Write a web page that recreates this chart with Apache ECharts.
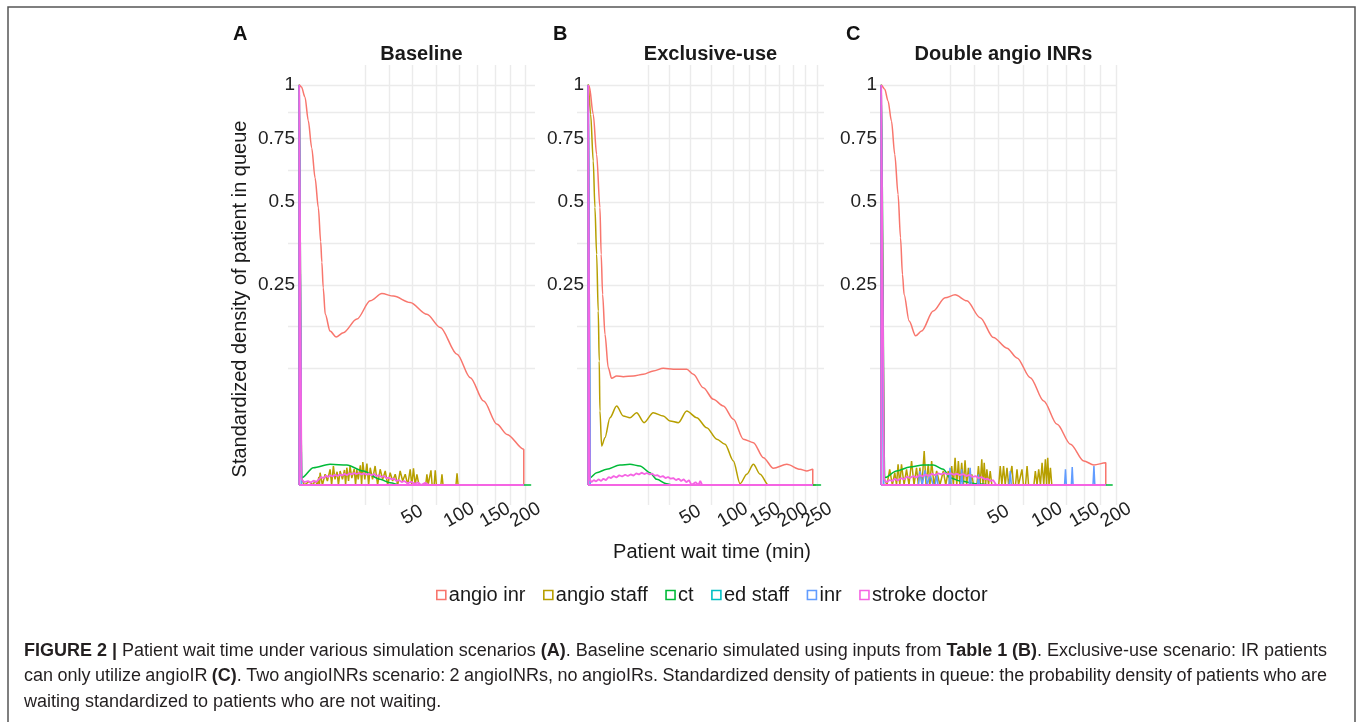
<!DOCTYPE html>
<html><head><meta charset="utf-8">
<script src="https://cdn.jsdelivr.net/npm/echarts@6/dist/echarts.min.js"></script>
<style>html,body{margin:0;padding:0;background:#fff}#c{width:1357px;height:722px}</style>
</head><body><div id="c"></div><script>
const FONT = '"Liberation Sans", Arial, Helvetica, sans-serif';
const SERIES_NAMES = ['angio inr','angio staff','ct','ed staff','inr','stroke doctor'];
const COLORS = ['#F8766D','#B79F00','#00BA38','#00BFC4','#619CFF','#F564E3'];
const SMOOTH = [true, false, true, false, false, false];
const PANEL_LETTERS = ['A','B','C'];
const PANEL_TITLES = ['Baseline','Exclusive-use','Double angio INRs'];
const X_BREAKS = [[50,100,150,200],[50,100,150,200,250],[50,100,150,200]];
const Y_BREAKS = [0.25,0.5,0.75,1];

// ---- Panel A: Baseline  [wait time (min), standardized density]
const baseAngioInr = [[0,1],[0.02,0.99],[0.13,0.94],[0.32,0.83],[0.61,0.71],[0.98,0.59],[1.43,0.48],[1.8,0.37],[2.0,0.31],[2.25,0.243],[2.65,0.182],[3.72,0.148],[5.31,0.137],[7.6,0.145],[13,0.172],[19.7,0.212],[26.7,0.229],[34.7,0.223],[48.1,0.208],[63.7,0.182],[77.7,0.155],[97.3,0.107],[114.4,0.072],[132.9,0.044],[152.9,0.023],[168.8,0.016],[197,0.008]];
const baseAngioStaff = [[0,1],[0.02,0.0003],[0.1,0],[0.4,0.00008],[0.7,0],[1.0,0.0001],[1.3,0],[1.5,0.0004],[1.6,0],[1.7,0.00095],[2.1,0],[2.61,0.00072],[3.1,0.0001],[3.72,0.00154],[4.1,0],[4.56,0.00226],[5.0,0.0002],[5.6,0.0011],[6.0,0],[6.53,0.00123],[7.3,0.0002],[8.0,0.0014],[8.4,0],[8.85,0.00187],[9.5,0.0001],[10.1,0.00226],[10.8,0.0003],[11.8,0.0016],[12.4,0],[12.96,0.00154],[13.6,0.0002],[14.6,0.0024],[15.2,0],[15.8,0.0033],[16.8,0.0002],[17.9,0.00284],[18.8,0],[19.7,0.00187],[21,0.0002],[22.5,0.00226],[24,0],[25.6,0.00154],[27.2,0.0002],[28.9,0.00123],[30.6,0],[32.3,0.00095],[34.1,0.0001],[36.0,0.00072],[37.9,0],[39.8,0.00123],[41.8,0.0001],[43.9,0.00072],[46,0],[48.1,0.00154],[49.5,0],[51.0,0.00174],[52.5,0],[54.1,0.00072],[56,0],[62.5,0],[63.7,0.00072],[64.9,0],[66.6,0],[67.8,0.00135],[69,0],[71.1,0],[72.3,0.00135],[73.5,0],[78.4,0],[79.6,0.00072],[80.8,0],[96,0],[97.3,0.00086],[98.6,0],[197,0]];
const baseCt = [[0,1],[0.025,0.00033],[0.78,0.00187],[3.72,0.00268],[8.85,0.0025],[16,0.00122],[25.6,0.0002],[32.3,0.00003],[40,0],[197,0]];
const baseEdStaff = [[0,1],[0.02,0],[197,0]];
const baseInr = [[0,1],[0.02,0],[197,0]];
const baseStroke = [[0,1],[0.02,0.0002],[0.1,0.00005],[0.3,0.0001],[0.5,0.00003],[0.8,0.00012],[1.1,0.00005],[1.5,0.0002],[1.9,0.0004],[2.3,0.0003],[2.8,0.00055],[3.3,0.0004],[3.8,0.0006],[4.4,0.00045],[5.0,0.00065],[5.7,0.0005],[6.4,0.0007],[7.2,0.00055],[8.0,0.0008],[8.9,0.0006],[9.8,0.00085],[10.8,0.0007],[11.8,0.0009],[12.9,0.00075],[14.0,0.0009],[15.2,0.0007],[16.4,0.00085],[17.7,0.00065],[19,0.0008],[20.4,0.0006],[21.8,0.00075],[23.3,0.0005],[24.8,0.0006],[26.4,0.0004],[28,0.0005],[29.7,0.0003],[31.4,0.00035],[33.2,0.0002],[35,0.00025],[37,0.0001],[39,0.00015],[41,0.00005],[43,0.0001],[46,0.00002],[49,0.00006],[52,0.00001],[55,0.00004],[58,0],[62,0.00003],[66,0],[197,0]];

// ---- Panel B: Exclusive-use
const exclAngioInr = [[0,1],[0.005,0.995],[0.12,0.859],[0.338,0.683],[0.656,0.481],[0.8,0.333],[0.99,0.227],[1.34,0.142],[1.92,0.086],[2.62,0.0711],[3.86,0.0743],[5.87,0.0733],[9.7,0.0743],[14.5,0.0766],[20.2,0.0812],[26.9,0.0851],[34.6,0.0837],[46.4,0.0837],[52.8,0.0766],[63.3,0.0592],[74.8,0.0459],[87.3,0.039],[100.7,0.027],[115.1,0.0131],[130.4,0.0112],[146.7,0.00466],[163.9,0.00174],[188.5,0.00268],[214.6,0.00154],[228.4,0.00123],[241,0.00154]];
const exclAngioStaff = [[0,1],[0.028,0.859],[0.12,0.656],[0.215,0.481],[0.338,0.333],[0.479,0.189],[0.58,0.0961],[0.656,0.0342],[0.86,0.0095],[1.34,0.014],[2.26,0.0283],[3.86,0.039],[5.87,0.0298],[8.33,0.0283],[11.2,0.0327],[14.9,0.0243],[20.2,0.0327],[26.9,0.0298],[32.0,0.0256],[38.8,0.0243],[46.4,0.0342],[56.3,0.0283],[67.1,0.0205],[79.0,0.0131],[89.5,0.0104],[100.7,0.0036],[110.2,0.00001],[120.2,0.00072],[130.4,0.00268],[141.2,0.00072],[155.2,0],[241,0]];
const exclCt = [[0,1],[0.014,0.00033],[0.338,0.00095],[1.62,0.00154],[4.81,0.0025],[8.33,0.00268],[12.8,0.00226],[18.2,0.00095],[22.4,0.0002],[29.4,0.00001],[34.6,0],[241,0]];
const exclEdStaff = [[0,1],[0.02,0],[241,0]];
const exclInr = [[0,1],[0.02,0],[241,0]];
const exclStroke = [[0,1],[0.01,0.0002],[0.05,0.00005],[0.15,0.00015],[0.3,0.00008],[0.5,0.0002],[0.8,0.0001],[1.1,0.00025],[1.5,0.00015],[2,0.0004],[2.5,0.0003],[3.1,0.0005],[3.8,0.00035],[4.6,0.0006],[5.5,0.00045],[6.5,0.00065],[7.5,0.0005],[8.6,0.0007],[9.8,0.00055],[11,0.00085],[12.3,0.0007],[13.6,0.00095],[15,0.00075],[16.5,0.0009],[18,0.0007],[19.6,0.0008],[21.2,0.00055],[23,0.0006],[24.8,0.0004],[26.6,0.0005],[28.5,0.0003],[30.5,0.0004],[32.5,0.00025],[34.6,0.0003],[36.8,0.00015],[39,0.00025],[41.3,0.0001],[43.6,0.0002],[46,0.00005],[48.5,0.00015],[51,0],[55,0.00005],[58,0],[60,0.0001],[62,0],[241,0]];

// ---- Panel C: Double angio INRs
const dblAngioInr = [[0,1],[0.045,0.979],[0.169,0.922],[0.381,0.828],[0.667,0.683],[1.03,0.528],[1.35,0.382],[1.64,0.277],[1.90,0.227],[2.83,0.168],[4.3,0.139],[5.91,0.148],[9.82,0.189],[14.8,0.219],[19.8,0.226],[26.6,0.212],[35.5,0.175],[45.7,0.136],[57.4,0.117],[66.9,0.101],[80.7,0.072],[95.8,0.0441],[112.3,0.023],[130,0.0104],[149,0.0036],[164.2,0.0025],[183,0.0031]];
const dblAngioStaff = [[0,1],[0.03,0.0003],[0.12,0],[0.26,0.00154],[0.45,0],[0.667,0.00095],[0.85,0],[1.03,0.00268],[1.25,0],[1.49,0.00268],[1.9,0],[2.32,0.00154],[2.8,0],[3.34,0.0036],[3.9,0],[4.53,0.00187],[5.0,0],[5.42,0.00187],[6.0,0],[6.70,0.0072],[7.3,0],[8.02,0.00268],[8.6,0],[9.22,0.0036],[10.1,0],[11.15,0.00123],[12.5,0],[13.98,0.00123],[15.1,0],[16.33,0.00123],[17.2,0],[18.04,0.00226],[18.9,0],[19.8,0.00466],[20.7,0],[21.6,0.0036],[22.5,0],[23.5,0.0031],[24.5,0],[25.5,0.00381],[26.5,0],[27.6,0.00187],[28.7,0],[29.8,0.00072],[30.9,0],[33.2,0],[34.3,0.00226],[35.5,0],[36.7,0.00413],[37.6,0],[38.5,0.0031],[39.5,0],[40.5,0.00154],[41.8,0],[43.1,0.00123],[44.4,0],[50.1,0],[51.4,0.00226],[52.8,0],[54.3,0.00226],[55.8,0],[57.4,0.00187],[58.9,0],[60.6,0],[62.0,0.00226],[63.4,0],[65.4,0],[66.9,0.00154],[68.4,0],[70.4,0],[71.9,0.00154],[73.4,0],[75.6,0],[77.2,0.00226],[78.8,0],[84.6,0],[86.2,0.00123],[88.1,0],[90.0,0.00154],[92,0],[93.9,0.0031],[95.9,0],[97.8,0.00413],[99.2,0],[100.6,0.00466],[102.2,0],[103.9,0.00187],[105.6,0],[183,0]];
const dblCt = [[0,1],[0.045,0.00033],[0.845,0.00123],[2.97,0.002],[6.39,0.0025],[9.82,0.0025],[13.98,0.00154],[17.2,0.00033],[22.6,0.0001],[33.2,0.00001],[43.1,0],[183,0]];
const dblEdStaff = [[0,1],[0.02,0],[183,0]];
const dblInr = [[0,1],[0.02,0],[5.0,0],[5.42,0.00123],[6.1,0],[6.93,0.00135],[7.7,0],[8.61,0.00072],[9.8,0],[10.6,0],[11.15,0.00072],[11.7,0],[16.6,0],[17.2,0.00187],[17.8,0],[22.9,0],[23.5,0.00154],[24.1,0],[28.0,0],[28.7,0.00187],[29.4,0],[33.6,0],[34.3,0.00072],[35,0],[59.4,0],[60.4,0.00123],[61.4,0],[122,0],[123.2,0.00154],[124.4,0],[131.2,0],[132.4,0.002],[133.6,0],[162.8,0],[164.2,0.00226],[165.6,0],[183,0]];
const dblStroke = [[0,1],[0.03,0.0002],[0.1,0.00005],[0.25,0.00015],[0.45,0.0001],[0.7,0.00025],[1,0.00012],[1.4,0.0003],[1.9,0.0002],[2.4,0.00045],[3,0.0003],[3.7,0.0005],[4.5,0.00035],[5.3,0.0006],[6.2,0.00045],[7.2,0.0007],[8.2,0.0005],[9.3,0.0008],[10.5,0.0006],[11.8,0.00085],[13.1,0.0007],[14.5,0.0009],[16,0.0007],[17.5,0.00085],[19.1,0.00065],[20.8,0.0008],[22.5,0.0006],[24.3,0.00075],[26.2,0.0005],[28.1,0.00065],[30.1,0.0004],[32.2,0.0005],[34.3,0.0003],[36.5,0.0004],[38.8,0.0002],[41.1,0.00025],[43.5,0.0001],[45.5,0.00015],[48,0],[183,0]];

const PANELS = [
  [baseAngioInr, baseAngioStaff, baseCt, baseEdStaff, baseInr, baseStroke],
  [exclAngioInr, exclAngioStaff, exclCt, exclEdStaff, exclInr, exclStroke],
  [dblAngioInr, dblAngioStaff, dblCt, dblEdStaff, dblInr, dblStroke]
];
const PANEL_SMOOTH = [SMOOTH, [true, true, true, false, false, false], SMOOTH];

// ---- caption (words; {b|..} = bold)
const CAPTION_LINES = [
  '{b|FIGURE} {b|2} {b||} Patient wait time under various simulation scenarios {b|(A)}. Baseline scenario simulated using inputs from {b|Table} {b|1} {b|(B)}. Exclusive-use scenario: IR patients',
  'can only utilize angioIR {b|(C)}. Two angioINRs scenario: 2 angioINRs, no angioIRs. Standardized density of patients in queue: the probability density of patients who are',
  'waiting standardized to patients who are not waiting.'
];

// ---- layout
const GRID_LEFTS = [288, 577, 870];
const GRID_W = 247, GRID_TOP = 65, GRID_H = 440;
const LETTER_X = [233, 553, 846];

const sq = v => Math.sqrt(Math.max(0, v));
function gridLines(breaks, lo, hi) {
  const s = breaks.map(sq), n = s.length;
  const ext = [s[0] - (s[1] - s[0]), ...s, s[n-1] + (s[n-1] - s[n-2])];
  const out = [];
  for (let i = 0; i < ext.length; i++) {
    out.push(ext[i]);
    if (i < ext.length - 1) out.push((ext[i] + ext[i+1]) / 2);
  }
  return out.filter(v => v >= lo && v <= hi);
}
function outline(pts) {
  const x0 = pts[0][0], x1 = pts[pts.length-1][0];
  return [[x0,0], ...pts, [x1,0], [x0,0]].map(p => [sq(p[0]), sq(p[1])]);
}

const grids = [], xAxes = [], xAxes2 = [], yAxes = [], series = [], titles = [];
const yLo = -0.05, yHi = 1.05;
const xLabelStyle = {formatter: v => String(Math.round(v*v)), rotate: 30, align: 'center', verticalAlign: 'middle',
  margin: 10, showMinLabel: true, showMaxLabel: true, hideOverlap: false, fontSize: 19, color: '#222', fontFamily: FONT};
PANELS.forEach((panel, i) => {
  const xmax = Math.max(...panel.map(d => d[d.length-1][0]));
  const S = sq(xmax), xLo = -0.05 * S, xHi = 1.05 * S;
  grids.push({left: GRID_LEFTS[i], top: GRID_TOP, width: GRID_W, height: GRID_H, containLabel: false});
  const brk = X_BREAKS[i].map(sq);
  xAxes.push({
    gridIndex: i, type: 'value', min: xLo, max: xHi,
    axisLine: {show: false},
    axisTick: {show: false, customValues: gridLines(X_BREAKS[i], xLo, xHi)},
    splitLine: {show: true, lineStyle: {color: '#ebebeb', width: 1.4}},
    axisLabel: Object.assign({customValues: brk.filter((v, k) => k % 2 === 0)}, xLabelStyle)
  });
  // companion axis carrying every other tick label, so neighbouring rotated labels are all kept
  xAxes2.push({
    gridIndex: i, type: 'value', min: xLo, max: xHi, position: 'bottom',
    axisLine: {show: false}, axisTick: {show: false}, splitLine: {show: false},
    axisLabel: Object.assign({customValues: brk.filter((v, k) => k % 2 === 1)}, xLabelStyle)
  });
  yAxes.push({
    gridIndex: i, type: 'value', min: yLo, max: yHi,
    axisLine: {show: false},
    axisTick: {show: false, customValues: gridLines(Y_BREAKS, yLo, yHi)},
    splitLine: {show: true, lineStyle: {color: '#ebebeb', width: 1.4}},
    axisLabel: {customValues: Y_BREAKS.map(sq), formatter: v => String(Math.round(v*v*100)/100),
      margin: -7, showMinLabel: true, showMaxLabel: true, hideOverlap: false,
      fontSize: 19, color: '#222', fontFamily: FONT}
  });
  panel.forEach((d, k) => {
    series.push({
      name: SERIES_NAMES[k], type: 'line', xAxisIndex: i, yAxisIndex: i,
      data: outline(d), showSymbol: false, symbol: 'none', animation: false,
      smooth: PANEL_SMOOTH[i][k] ? 0.3 : false, smoothMonotone: 'x',
      lineStyle: {color: COLORS[k], width: k === 5 ? 1.8 : 1.5}, itemStyle: {color: COLORS[k]},
      z: 2 + k, silent: true, clip: true
    });
  });
  titles.push({text: PANEL_LETTERS[i], left: LETTER_X[i], top: 24, padding: 0,
    textStyle: {fontSize: 20, fontWeight: 'bold', color: '#111', fontFamily: FONT}});
  titles.push({text: PANEL_TITLES[i], left: GRID_LEFTS[i] + GRID_W/2 + 10, top: 44, padding: 0, textAlign: 'center',
    textStyle: {fontSize: 20, fontWeight: 'bold', color: '#1a1a1a', fontFamily: FONT}});
});

// ---- justified caption, built word by word
const CAP_SIZE = 18, CAP_LEFT = 24, CAP_RIGHT = 1327, CAP_Y0 = 651, CAP_DY = 25.5;
const mctx = document.createElement('canvas').getContext('2d');
function parts(word) {
  const out = []; const re = /\{b\|([^}]*)\}/g; let last = 0, m;
  while ((m = re.exec(word))) {
    if (m.index > last) out.push([word.slice(last, m.index), false]);
    out.push([m[1], true]); last = re.lastIndex;
  }
  if (last < word.length) out.push([word.slice(last), false]);
  return out;
}
function wordWidth(word) {
  return parts(word).reduce((w, [t, b]) => {
    mctx.font = (b ? 'bold ' : '') + CAP_SIZE + 'px "Liberation Sans"';
    return w + mctx.measureText(t).width;
  }, 0);
}
mctx.font = CAP_SIZE + 'px "Liberation Sans"';
const SPACE_W = mctx.measureText(' ').width;
const captionEls = [];
CAPTION_LINES.forEach((line, j) => {
  const words = line.split(' ');
  const widths = words.map(wordWidth);
  const total = widths.reduce((a, b) => a + b, 0);
  const last = j === CAPTION_LINES.length - 1;
  const gap = last ? SPACE_W : (CAP_RIGHT - CAP_LEFT - total) / (words.length - 1);
  let x = CAP_LEFT;
  words.forEach((w, k) => {
    captionEls.push({type: 'text', x: x, y: CAP_Y0 + j * CAP_DY, silent: true,
      style: {text: w, fontSize: CAP_SIZE, fontFamily: FONT, fill: '#231f20',
        verticalAlign: 'middle', textVerticalAlign: 'middle',
        rich: {b: {fontSize: CAP_SIZE, fontFamily: FONT, fontWeight: 'bold', fill: '#231f20'}}}});
    x += widths[k] + gap;
  });
});

const chart = echarts.init(document.getElementById('c'), null, {renderer: 'canvas'});
chart.setOption({
  animation: false,
  backgroundColor: '#ffffff',
  title: titles,
  grid: grids, xAxis: xAxes.concat(xAxes2), yAxis: yAxes, series: series,
  legend: {
    left: 431, top: 580, itemWidth: 9, itemHeight: 9, itemGap: 17.5,
    textStyle: {fontSize: 20, color: '#1a1a1a', fontFamily: FONT, padding: [0,0,0,-2]},
    data: SERIES_NAMES.map((n, k) => ({name: n, icon: 'rect',
      itemStyle: {color: '#ffffff', borderColor: COLORS[k], borderWidth: 1.6}}))
  },
  graphic: [
    {type: 'rect', shape: {x: 8, y: 7, width: 1347, height: 740}, silent: true,
      style: {fill: 'none', stroke: '#555', lineWidth: 1.5}},
    {type: 'text', x: 240, y: 299, rotation: Math.PI/2, silent: true,
      style: {text: 'Standardized density of patient in queue', fontSize: 20, fontFamily: FONT, fill: '#1a1a1a',
        align: 'center', verticalAlign: 'middle', textAlign: 'center', textVerticalAlign: 'middle'}},
    {type: 'text', x: 712, y: 552, silent: true,
      style: {text: 'Patient wait time (min)', fontSize: 20, fontFamily: FONT, fill: '#1a1a1a',
        align: 'center', verticalAlign: 'middle', textAlign: 'center', textVerticalAlign: 'middle'}},
    ...captionEls
  ]
});
</script></body></html>
